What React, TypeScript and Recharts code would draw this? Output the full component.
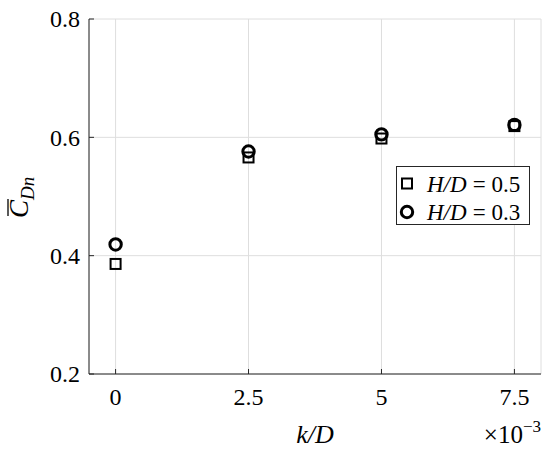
import { ScatterChart, Scatter, XAxis, YAxis, CartesianGrid, Legend } from "recharts";

// k/D values (×10^-3) and mean drag coefficient for each H/D
const kD = [0, 2.5, 5, 7.5];
const cdH05 = [0.386, 0.566, 0.598, 0.619];
const cdH03 = [0.419, 0.576, 0.605, 0.621];
const hdLabels = ["0.5", "0.3"];
const markerTypes = ["square", "circle"];
const xTicks = [0, 2.5, 5, 7.5];
const yTicks = [0.2, 0.4, 0.6, 0.8];

const h05 = kD.map((k, i) => ({ k, cd: cdH05[i] }));
const h03 = kD.map((k, i) => ({ k, cd: cdH03[i] }));

const FONT = "Liberation Serif";
const AXIS = "#262626";
const TL = 5;

const Square = (p: any) => (
  <rect x={p.cx - 5} y={p.cy - 5} width={10} height={10} fill="none" stroke="#000" strokeWidth={2} />
);
const Circle = (p: any) => (
  <circle cx={p.cx} cy={p.cy} r={5.7} fill="none" stroke="#000" strokeWidth={3} />
);

const BottomTick = (p: any) => (
  <g>
    <line x1={p.x} y1={p.y} x2={p.x} y2={p.y - TL} stroke={AXIS} />
    <text x={p.x} y={p.y + 31} textAnchor="middle" fontSize={24} fontFamily={FONT} fill="#000">
      {p.payload.value}
    </text>
  </g>
);
const TopTick = (p: any) => <line x1={p.x} y1={p.y} x2={p.x} y2={p.y + TL} stroke={AXIS} />;
const LeftTick = (p: any) => (
  <g>
    <line x1={p.x} y1={p.y} x2={p.x + TL} y2={p.y} stroke={AXIS} />
    <text x={p.x - 9} y={p.y} dy="0.35em" textAnchor="end" fontSize={24} fontFamily={FONT} fill="#000">
      {p.payload.value.toFixed(1)}
    </text>
  </g>
);
const RightTick = (p: any) => <line x1={p.x} y1={p.y} x2={p.x - TL} y2={p.y} stroke={AXIS} />;

const XLabel = (p: any) => {
  const vb = p.viewBox;
  return (
    <g fontFamily={FONT} fill="#000">
      <text x={vb.x + vb.width / 2} y={443} textAnchor="middle" fontSize={26} fontStyle="italic">
        k/D
      </text>
      <text x={vb.x + vb.width} y={443} textAnchor="end" fontSize={25}>
        ×10
        <tspan fontSize={17} dy={-11}>−3</tspan>
      </text>
    </g>
  );
};

const YLabel = () => (
  <g transform="translate(28, 193) rotate(-90)" fontFamily={FONT} fill="#000">
    <text x={-25} y={0} fontSize={27} fontStyle="italic">
      C
      <tspan fontSize={19} dy={6}>Dn</tspan>
    </text>
    <line x1={-23} y1={-20} x2={-6} y2={-20} stroke="#000" strokeWidth={1.3} />
  </g>
);

const LegendBox = () => (
  <svg width={134} height={59} style={{ display: "block" }} fontFamily={FONT}>
    <rect x={0.5} y={0.5} width={133} height={58} fill="#fff" stroke={AXIS} />
    {hdLabels.map((hd, i) => {
      const cy = 17.5 + i * 28.5;
      return (
        <g key={i}>
          {markerTypes[i] === "square" ? Square({ cx: 11, cy }) : Circle({ cx: 11, cy })}
          <text x={31} y={cy + 8} fontSize={23} fill="#000">
            <tspan fontStyle="italic">H/D</tspan>
            <tspan dx={6}>=</tspan>
            <tspan dx={6}>{hd}</tspan>
          </text>
        </g>
      );
    })}
  </svg>
);

export default function App() {
  return (
    <div
      style={{
        position: "absolute",
        left: 0,
        top: 0,
        width: 550,
        height: 449,
        background: "#fff",
        fontFamily: FONT,
      }}
    >
      <ScatterChart width={550} height={449} margin={{ top: 19, right: 9, bottom: 0, left: 0 }}>
        <CartesianGrid stroke="#dedede" strokeWidth={1} />
        <XAxis
          type="number"
          dataKey="k"
          domain={[-0.5, 8]}
          ticks={xTicks}
          height={75}
          tickSize={0}
          tickMargin={0}
          tick={BottomTick}
          axisLine={{ stroke: AXIS }}
          tickLine={false}
          label={{ content: XLabel }}
        />
        <XAxis
          xAxisId="top"
          orientation="top"
          type="number"
          domain={[-0.5, 8]}
          ticks={xTicks}
          height={0}
          tickSize={0}
          tickMargin={0}
          tick={TopTick}
          axisLine={{ stroke: AXIS }}
          tickLine={false}
        />
        <YAxis
          type="number"
          dataKey="cd"
          domain={[0.2, 0.8]}
          ticks={yTicks}
          width={89}
          tickSize={0}
          tickMargin={0}
          tick={LeftTick}
          axisLine={{ stroke: AXIS }}
          tickLine={false}
          label={{ content: YLabel }}
        />
        <YAxis
          yAxisId="right"
          orientation="right"
          type="number"
          domain={[0.2, 0.8]}
          ticks={yTicks}
          width={0}
          tickSize={0}
          tickMargin={0}
          tick={RightTick}
          axisLine={{ stroke: AXIS }}
          tickLine={false}
        />
        <Legend
          layout="vertical"
          align="center"
          verticalAlign="middle"
          content={LegendBox}
          wrapperStyle={{ left: 396, top: 166, width: 134, height: 59 }}
        />
        <Scatter name={"H/D = " + hdLabels[0]} data={h05} legendType="square" shape={Square} isAnimationActive={false} />
        <Scatter name={"H/D = " + hdLabels[1]} data={h03} legendType="circle" shape={Circle} isAnimationActive={false} />
      </ScatterChart>
    </div>
  );
}
